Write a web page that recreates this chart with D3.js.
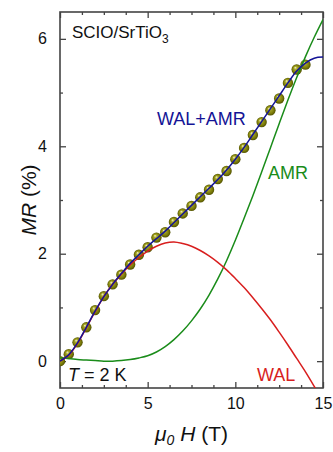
<!DOCTYPE html>
<html>
<head>
<meta charset="utf-8">
<script src="https://cdn.jsdelivr.net/npm/d3@7"></script>
<style>
  body { margin: 0; background: #fff; }
  svg { display: block; font-family: "Liberation Sans", Arial, sans-serif; }
</style>
</head>
<body>
<div id="chart"></div>
<script>
// measured MR (%) vs field (T)
const fieldData = [0, 0.5, 1, 1.5, 2, 2.5, 3, 3.5, 4, 4.5, 5, 5.5, 6, 6.5, 7, 7.5, 8, 8.5, 9, 9.5, 10, 10.5, 11, 11.5, 12, 12.5, 13, 13.5, 14];
const mrData = [0.0, 0.13, 0.35, 0.63, 0.95, 1.21, 1.43, 1.61, 1.8, 1.98, 2.12, 2.3, 2.4, 2.59, 2.75, 2.89, 3.05, 3.19, 3.39, 3.54, 3.76, 3.97, 4.21, 4.45, 4.67, 4.89, 5.18, 5.43, 5.52];

// fit curves
const fieldFit = [0, 0.5, 1, 1.5, 2, 2.5, 3, 3.5, 4, 4.5, 5, 5.5, 6, 6.5, 7, 7.5, 8, 8.5, 9, 9.5, 10, 10.5, 11, 11.5, 12, 12.5, 13, 13.5, 14, 14.5, 15];
const walAmr = [0.0, 0.12, 0.34, 0.63, 0.93, 1.2, 1.43, 1.63, 1.82, 1.98, 2.14, 2.28, 2.42, 2.58, 2.74, 2.9, 3.06, 3.22, 3.38, 3.56, 3.76, 3.98, 4.22, 4.46, 4.7, 4.94, 5.18, 5.4, 5.55, 5.64, 5.66];
const wal = [0.0, 0.11, 0.33, 0.62, 0.92, 1.2, 1.43, 1.62, 1.79, 1.93, 2.05, 2.14, 2.2, 2.22, 2.19, 2.14, 2.06, 1.96, 1.84, 1.7, 1.54, 1.37, 1.18, 0.98, 0.77, 0.54, 0.3, 0.05, -0.2, -0.47, -0.75];
const amr = [0.06, 0.05, 0.03, 0.02, 0.01, 0.0, 0.0, 0.01, 0.03, 0.06, 0.1, 0.17, 0.27, 0.4, 0.56, 0.75, 0.97, 1.23, 1.53, 1.87, 2.25, 2.66, 3.08, 3.52, 3.97, 4.42, 4.86, 5.28, 5.67, 6.03, 6.36];

const xTicks = [0, 5, 10, 15];
const yTicks = [0, 2, 4, 6];

const width = 333, height = 452;
const margin = {top: 12, right: 10, bottom: 64, left: 60};
const innerW = width - margin.left - margin.right;
const innerH = height - margin.top - margin.bottom;

const svg = d3.select('#chart').append('svg')
    .attr('width', width)
    .attr('height', height);

const defs = svg.append('defs');
defs.append('clipPath').attr('id', 'plotClip')
    .append('rect').attr('width', innerW).attr('height', innerH);

const grad = defs.append('radialGradient')
    .attr('id', 'ball')
    .attr('cx', '50%').attr('cy', '50%').attr('r', '50%')
    .attr('fx', '35%').attr('fy', '30%');
grad.append('stop').attr('offset', '0%').attr('stop-color', '#f4f4d0');
grad.append('stop').attr('offset', '30%').attr('stop-color', '#a8a828');
grad.append('stop').attr('offset', '75%').attr('stop-color', '#7a7a08');
grad.append('stop').attr('offset', '100%').attr('stop-color', '#505000');

const g = svg.append('g')
    .attr('transform', `translate(${margin.left},${margin.top})`);

const x = d3.scaleLinear().domain([0, 15]).range([0, innerW]);
const y = d3.scaleLinear().domain([-0.5, 6.5]).range([innerH, 0]);

// ticks, all pointing inward on four sides
const axisColor = '#444';
const xMinor = d3.range(0, 15.01, 1.25).filter(v => !xTicks.includes(v));
const yMinor = [1, 3, 5];

const axes = g.append('g');
axes.append('g').attr('transform', `translate(0,${innerH})`)
    .call(d3.axisBottom(x).tickValues(xTicks).tickSize(-6).tickPadding(10).tickFormat(d3.format('d')));
axes.append('g')
    .call(d3.axisTop(x).tickValues(xTicks).tickSize(-6).tickFormat(''));
axes.append('g')
    .call(d3.axisLeft(y).tickValues(yTicks).tickSize(-6).tickPadding(13).tickFormat(d3.format('d')));
axes.append('g').attr('transform', `translate(${innerW},0)`)
    .call(d3.axisRight(y).tickValues(yTicks).tickSize(-6).tickFormat(''));

axes.append('g').attr('transform', `translate(0,${innerH})`)
    .call(d3.axisBottom(x).tickValues(xMinor).tickSize(-3).tickFormat(''));
axes.append('g')
    .call(d3.axisTop(x).tickValues(xMinor).tickSize(-3).tickFormat(''));
axes.append('g')
    .call(d3.axisLeft(y).tickValues(yMinor).tickSize(-3).tickFormat(''));
axes.append('g').attr('transform', `translate(${innerW},0)`)
    .call(d3.axisRight(y).tickValues(yMinor).tickSize(-3).tickFormat(''));

axes.selectAll('.domain').remove();
axes.selectAll('line').attr('stroke', axisColor).attr('stroke-width', 1.3);
axes.selectAll('text').attr('fill', '#111').style('font-size', '16px')
    .style('font-family', '"Liberation Sans", Arial, sans-serif');

g.append('rect')
    .attr('width', innerW).attr('height', innerH)
    .attr('fill', 'none').attr('stroke', axisColor).attr('stroke-width', 1.6);

// data points
const plot = g.append('g').attr('clip-path', 'url(#plotClip)');
plot.selectAll('circle')
    .data(fieldData.map((f, i) => [f, mrData[i]]))
    .enter().append('circle')
    .attr('cx', d => x(d[0]))
    .attr('cy', d => y(d[1]))
    .attr('r', 5.2)
    .attr('fill', 'url(#ball)');

// fit curves
const line = d3.line()
    .x(d => x(d[0]))
    .y(d => y(d[1]))
    .curve(d3.curveCatmullRom);

const curves = [
    {vals: amr, color: '#1a8c1a'},
    {vals: wal, color: '#d81e1e'},
    {vals: walAmr, color: '#141496'}
];
curves.forEach(c => {
    plot.append('path')
        .datum(fieldFit.map((f, i) => [f, c.vals[i]]))
        .attr('d', line)
        .attr('fill', 'none')
        .attr('stroke', c.color)
        .attr('stroke-width', 1.5);
});

// labels inside the plot
const txt = g.append('g').style('font-size', '18px');
const sample = txt.append('text').attr('x', 12).attr('y', 26).attr('fill', '#111').style('font-size', '17px');
sample.append('tspan').text('SCIO/SrTiO');
sample.append('tspan').attr('dy', 5).style('font-size', '12px').text('3');

txt.append('text').attr('x', 97).attr('y', 113).attr('fill', '#141496').text('WAL+AMR');
txt.append('text').attr('x', 208).attr('y', 167).attr('fill', '#1a8c1a').text('AMR');
txt.append('text').attr('x', 197).attr('y', 369).attr('fill', '#d81e1e').text('WAL');

const temp = txt.append('text').attr('x', 8).attr('y', 369).attr('fill', '#111');
temp.append('tspan').style('font-style', 'italic').text('T');
temp.append('tspan').text(' = 2 K');

// axis titles
const xl = svg.append('text')
    .attr('x', margin.left + innerW / 2)
    .attr('y', 441)
    .attr('text-anchor', 'middle')
    .attr('fill', '#111')
    .style('font-size', '21px');
xl.append('tspan').style('font-style', 'italic').text('μ');
xl.append('tspan').attr('dy', 4).style('font-style', 'italic').style('font-size', '14px').text('0');
xl.append('tspan').attr('dy', -4).style('font-style', 'italic').text(' H');
xl.append('tspan').text(' (T)');

const yl = svg.append('text')
    .attr('transform', `translate(36,${margin.top + innerH / 2}) rotate(-90)`)
    .attr('text-anchor', 'middle')
    .attr('fill', '#111')
    .style('font-size', '21px');
yl.append('tspan').style('font-style', 'italic').text('MR');
yl.append('tspan').text('  (%)');
</script>
</body>
</html>
